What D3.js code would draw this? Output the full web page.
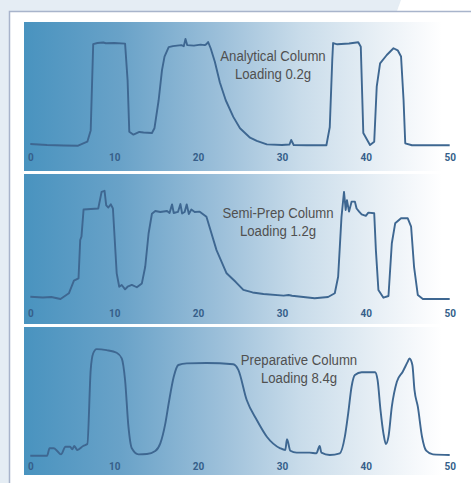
<!DOCTYPE html>
<html lang="en">
<head>
	<meta charset="UTF-8">
	<title>Column loading</title>
	<script src="https://cdn.jsdelivr.net/npm/d3@7"></script>
	<style>
		html,body{margin:0;padding:0;background:#fff;}
		svg{display:block;}
		.tick text{font-family:Roboto,"DejaVu Sans",sans-serif;font-weight:bold;font-size:10px;fill:#365f8a;}
		.lbl{font-family:"Liberation Sans",Arial,sans-serif;font-size:15.5px;fill:#505050;}
	</style>
</head>
<body>
	<svg id="svg" width="471" height="483"></svg>
	<script>
		// time axis (minutes)
		var ticks = [0,10,20,30,40,50];
		var titles = [
			["Analytical Column","Loading 0.2g"],
			["Semi-Prep Column","Loading 1.2g"],
			["Preparative Column","Loading 8.4g"]
		];

		// [time, signal], 0 = baseline, 100 ~ main plateau
		var analytical = [[0,1.9],[2,1],[4,0.5],[5.7,0.3],[6.8,4.1],[7.2,15],[7.5,98],[8,99],[8.7,99.5],[9,98.8],[10,99],[11.3,98.4],[11.6,63],[11.8,13.8],[12.3,10.9],[13,13.5],[13.5,13],[14.5,12.5],[14.8,17],[15.3,44],[15.7,73],[16,86],[16.5,95],[17,96],[18,97],[18.3,96],[18.5,103],[18.7,97],[19.5,96.5],[20.3,97.5],[20.8,97],[21,98],[21.2,100],[21.5,94],[22,81],[22.6,61],[23.3,44],[24.2,28],[25,17],[26.2,8],[27,5],[28.2,1.6],[30,1],[30.9,1.4],[31.1,5.8],[31.4,1],[33,0.7],[35.3,0.7],[35.7,18],[36,83],[36.1,99],[36.6,97.8],[38,98.6],[39.1,99.7],[39.4,95.5],[39.7,12.5],[40.5,1],[41,4.1],[41.3,57],[41.7,79.5],[42.5,87.5],[43.3,94],[43.8,92],[44.2,86],[44.5,44],[44.7,2.6],[45.5,0.7],[50,0.7]];
		var semiPrep = [[0,2.2],[1.5,1.4],[2.5,1.9],[3.6,0],[4.6,5.5],[5.2,17.6],[5.75,19.9],[5.95,56.7],[6.1,60],[6.35,86],[8.1,87],[8.5,103],[8.85,104],[9.05,90],[9.3,88],[9.6,91],[9.85,87],[10.3,24.7],[10.6,11.8],[10.9,13.5],[11.3,9.3],[11.6,11.8],[12.1,13.5],[12.7,11.3],[13.3,15],[13.7,31],[14.1,63],[14.5,82],[14.9,84.6],[15.5,83.7],[16.3,84.6],[16.6,82.7],[16.9,91],[17.1,82.7],[17.6,83.7],[17.9,91.3],[18.1,82.2],[18.4,83.7],[18.65,91],[18.9,81.7],[19.2,86],[19.6,83.7],[20.2,84],[21,79],[22.2,47],[23.4,24.7],[24.5,16.3],[25.4,8.7],[26.5,6.3],[27.8,4.8],[30.2,3.2],[30.8,3.8],[31.2,3.1],[33.9,0.7],[35.5,1.9],[36.3,5.5],[36.7,21.4],[37.1,79],[37.4,103],[37.6,85.6],[37.75,95],[38,84],[38.3,93.6],[38.7,93.6],[38.9,87],[39.2,84],[39.5,81.4],[40,80],[40.3,83],[41,82.4],[41.2,47],[41.5,8.7],[42.1,1.25],[42.7,2.9],[43.1,53.6],[43.5,72.8],[44.2,77.6],[45,77.6],[45.4,69.5],[45.75,31],[46.2,3.8],[46.8,0],[50,0]];
		var preparative = [[0,-4.5],[2,-4.5],[2.3,2.6],[2.8,2.6],[3.2,0],[3.65,-3.2],[4.2,4.1],[4.75,4.1],[5,1.6],[5.25,4.8],[5.6,1],[6.3,4.8],[6.8,6.7],[7.2,78],[7.5,94],[7.9,98],[9.1,97],[10.3,94.5],[10.9,89],[11.3,68],[11.7,23.4],[12.1,2.6],[12.9,-3.2],[13.9,-2.9],[14.9,0],[15.5,7.4],[16.1,26.6],[16.5,45.9],[17.1,71.4],[17.65,82.7],[18.65,84.3],[21,84.6],[24.2,83.4],[24.8,78],[25.8,49],[27,29.8],[28.2,13.75],[29.8,2.6],[30.4,1],[30.6,11.25],[31,0.3],[31.75,-1.6],[33.3,-1.6],[34.1,-2.2],[34.5,4.8],[34.7,-1.6],[35.7,-3.8],[36.9,-2.2],[37.5,13.75],[37.9,36.25],[38.3,61.8],[38.7,73],[39.5,75.7],[41.1,75.7],[41.4,68.3],[41.75,39.4],[42.1,17],[42.4,6.7],[42.7,13.75],[43.1,42.6],[43.7,66.6],[44.4,76.25],[45,85.9],[45.2,89],[45.55,82.7],[45.8,58.7],[46.2,42.6],[46.7,13.75],[47.2,0.3],[48,-3.2],[50,-3.8]];
		var traces = [analytical, semiPrep, preparative];

		var svg = d3.select("svg");
		var panels = [
			{top:22, h:149, base:124, lab:139, tx:273, ty:61},
			{top:174, h:150, base:125, lab:143, tx:278, ty:218},
			{top:327, h:148, base:124, lab:143, tx:299, ty:365}
		];

		// page background and frame
		svg.append("rect").attr("width",471).attr("height",483).attr("fill","#fff");
		svg.append("rect").attr("width",9).attr("height",483).attr("fill","#e5edf4");
		svg.append("polygon").attr("points","0,0 401,0 397,11 0,11").attr("fill","#e5edf4");
		svg.append("path").attr("d","M9.5,483V11.5H471").attr("fill","none")
			.attr("stroke","#a8b4cb").attr("stroke-width",1.5);

		var grad = svg.append("defs").append("linearGradient").attr("id","bg");
		[[0,"#4993bf"],[0.22,"#69a2c8"],[0.45,"#9dc0da"],[0.63,"#c9dcea"],[0.81,"#e9f0f6"],[0.95,"#ffffff"]].forEach(function(s){
			grad.append("stop").attr("offset",s[0]).attr("stop-color",s[1]);
		});

		var x = d3.scaleLinear().domain([0,50]).range([30.3,449.7]);

		panels.forEach(function(p,i){
			var g = svg.append("g").attr("transform","translate(0,"+p.top+")");
			g.append("rect").attr("x",24).attr("width",440).attr("height",p.h).attr("fill","url(#bg)");

			var y = d3.scaleLinear().domain([0,100]).range([p.base,p.base-104]);

			var ax = g.append("g").attr("transform","translate(0,"+p.lab+")")
				.call(d3.axisBottom(x).tickValues(ticks).tickSize(0).tickPadding(0));
			ax.select(".domain").remove();
			ax.selectAll("text").attr("dy",0);

			var line = d3.line()
				.x(function(d){return x(d[0]);})
				.y(function(d){return y(d[1]);})
				.curve(i==2 ? d3.curveMonotoneX : d3.curveLinear);
			g.append("path").datum(traces[i]).attr("d",line)
				.attr("fill","none").attr("stroke","#3e6791").attr("stroke-width",1.9)
				.attr("stroke-linejoin","round");

			// narrow type: squeeze a regular face horizontally
			g.append("text").attr("class","lbl").attr("text-anchor","middle")
				.attr("transform","translate("+p.tx+","+(p.ty-p.top)+") scale(0.85,1)")
				.selectAll("tspan").data(titles[i]).enter().append("tspan")
				.attr("x",0).attr("y",function(d,j){return j*18;})
				.text(function(d){return d;});
		});
	</script>
</body>
</html>
